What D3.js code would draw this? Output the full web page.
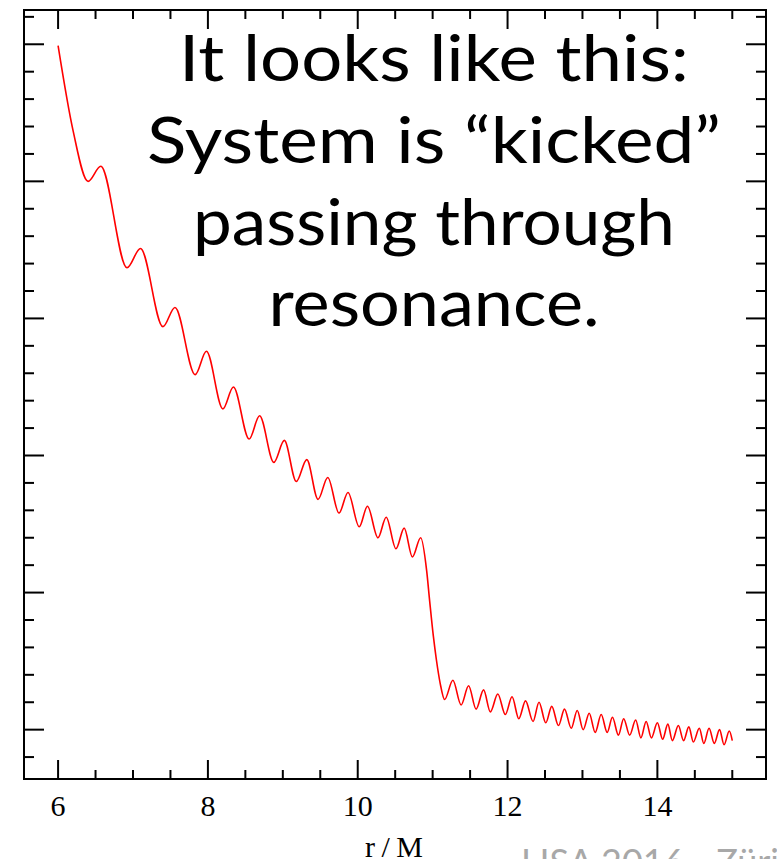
<!DOCTYPE html>
<html>
    <head>
        <meta charset="utf-8">
        <script src="https://d3js.org/d3.v7.min.js"></script>
        <title>Kicked through resonance</title>
        <style>
            body {margin: 0; background-color: white;}
            svg {display: block;}
        </style>
    </head>
    <body>
        <script>
            // curve: peaks and troughs in r/M, arbitrary y units
            const rOverM = [
                6.00, 6.20, 6.40, 6.57, 6.92, 7.10, 7.40, 7.56, 7.83, 7.98,
                8.20, 8.34, 8.55, 8.69, 8.88, 9.02, 9.18, 9.32, 9.47, 9.60,
                9.75, 9.87, 10.02, 10.13, 10.27, 10.38, 10.51, 10.62, 10.73, 10.84,
                10.92, 10.96, 11.01, 11.05, 11.10, 11.16,
                11.27, 11.38, 11.48, 11.58, 11.68, 11.77, 11.87, 11.97, 12.06, 12.15,
                12.24, 12.34, 12.42, 12.51, 12.59, 12.68, 12.76, 12.85, 12.93, 13.01,
                13.09, 13.17, 13.25, 13.33, 13.40, 13.48, 13.55, 13.63, 13.71, 13.78,
                13.85, 13.92, 14.00, 14.07, 14.14, 14.20, 14.28, 14.35, 14.42, 14.48,
                14.56, 14.62, 14.69, 14.76, 14.83, 14.89, 14.96, 15.00
            ]
            const signal = [
                4.99, 4.37, 4.00, 4.11, 3.37, 3.51, 2.94, 3.08, 2.59, 2.76,
                2.34, 2.50, 2.12, 2.29, 1.95, 2.11, 1.81, 1.97, 1.68, 1.84,
                1.58, 1.73, 1.48, 1.63, 1.40, 1.55, 1.32, 1.47, 1.26, 1.40,
                1.16, 0.94, 0.68, 0.51, 0.34, 0.22,
                0.36, 0.18, 0.32, 0.15, 0.29, 0.13, 0.26, 0.11, 0.24, 0.08,
                0.21, 0.06, 0.20, 0.05, 0.17, 0.03, 0.15, 0.01, 0.14, 0.00,
                0.12, -0.02, 0.11, -0.02, 0.09, -0.04, 0.08, -0.04, 0.07, -0.06,
                0.06, -0.06, 0.05, -0.07, 0.04, -0.08, 0.03, -0.08, 0.02, -0.09,
                0.01, -0.10, 0.01, -0.10, 0.00, -0.11, -0.01, -0.08
            ]
            const xTickLabels = [6, 8, 10, 12, 14]
            const textLines = ['It looks like this:', 'System is \u201ckicked\u201d', 'passing through', 'resonance.']
            const footer = 'LISA 2016 - Z\u00fcrich'

            const width = 777
            const height = 859
            const frame = {left: 24, right: 766, top: 10, bottom: 779}

            const svg = d3.select('body')
                .append('svg')
                    .attr('width', width)
                    .attr('height', height)

            const x = d3.scaleLinear().domain([5.545, 15.45]).range([frame.left, frame.right])
            const y = d3.scaleLinear().domain([-0.36, 5.25]).range([frame.bottom, frame.top])

            const data = rOverM.map((r, i) => ({r: r, v: signal[i]}))

            // ticks, inward on all four sides
            const xMinor = d3.range(6, 15.01, 0.5)
            const yMinor = d3.range(-0.2, 5.21, 0.2)
            const isMajorX = d => Math.abs(d / 2 - Math.round(d / 2)) < 1e-6
            const isMajorY = d => Math.abs(d - Math.round(d)) < 1e-6

            const tickG = svg.append('g').attr('stroke', 'black').attr('stroke-width', 2)
            xMinor.forEach(d => {
                const len = isMajorX(d) ? 19 : 9
                tickG.append('line').attr('x1', x(d)).attr('x2', x(d)).attr('y1', frame.bottom).attr('y2', frame.bottom - len)
                tickG.append('line').attr('x1', x(d)).attr('x2', x(d)).attr('y1', frame.top).attr('y2', frame.top + len)
            })
            yMinor.forEach(d => {
                const len = isMajorY(d) ? 20 : 10
                tickG.append('line').attr('x1', frame.left).attr('x2', frame.left + len).attr('y1', y(d)).attr('y2', y(d))
                tickG.append('line').attr('x1', frame.right).attr('x2', frame.right - len).attr('y1', y(d)).attr('y2', y(d))
            })

            svg.append('rect')
                .attr('x', frame.left)
                .attr('y', frame.top)
                .attr('width', frame.right - frame.left)
                .attr('height', frame.bottom - frame.top)
                .attr('fill', 'none')
                .attr('stroke', 'black')
                .attr('stroke-width', 2)

            // tick labels
            svg.selectAll('.xlab')
                .data(xTickLabels)
                .enter()
                .append('text')
                    .attr('class', 'xlab')
                    .attr('x', d => x(d))
                    .attr('y', 816)
                    .attr('text-anchor', 'middle')
                    .attr('font-family', 'Liberation Serif')
                    .attr('font-size', 30)
                    .text(d => d)

            // axis title touches the bottom edge, as in the slide
            svg.append('text')
                .attr('x', 394)
                .attr('y', 857)
                .attr('text-anchor', 'middle')
                .attr('font-family', 'Liberation Serif')
                .attr('font-size', 30)
                .attr('textLength', 58)
                .attr('lengthAdjust', 'spacing')
                .text('r/M')

            // the curve
            const line = d3.line()
                .x(d => x(d.r))
                .y(d => y(d.v))
                .curve(d3.curveMonotoneX)

            svg.append('path')
                .datum(data)
                .attr('d', line)
                .attr('fill', 'none')
                .attr('stroke', 'red')
                .attr('stroke-width', 1.6)

            // slide text
            const lineBase = [81, 163, 245, 326]
            const lineWidth = [510, 574, 482, 331]
            svg.selectAll('.big')
                .data(textLines)
                .enter()
                .append('text')
                    .attr('class', 'big')
                    .attr('x', 434)
                    .attr('y', (d, i) => lineBase[i])
                    .attr('text-anchor', 'middle')
                    .attr('font-family', 'Lato')
                    .attr('font-size', 64)
                    .attr('textLength', (d, i) => lineWidth[i])
                    .attr('lengthAdjust', 'spacingAndGlyphs')
                    .text(d => d)

            svg.append('text')
                .attr('x', 521)
                .attr('y', 875)
                .attr('font-family', 'Lato')
                .attr('font-size', 36)
                .attr('fill', '#a8a8a8')
                .text(footer)
        </script>
    </body>
</html>
